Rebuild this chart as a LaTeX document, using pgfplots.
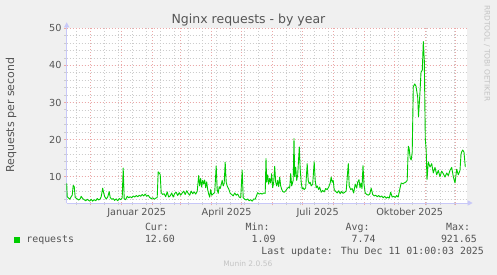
\documentclass[border=0pt]{standalone}
\usepackage{pgfplots}
\pgfplotsset{compat=1.18}
\usepackage{pgfplotstable}
\usepackage{fontspec}
\setmainfont{DejaVu Sans}
\newfontfamily\monofont{DejaVu Sans Mono}
\usetikzlibrary{arrows.meta}
\definecolor{bgc}{HTML}{F0F0F0}
\definecolor{txt}{HTML}{555555}
\definecolor{lgreen}{HTML}{00CC00}
\definecolor{gridred}{HTML}{EBA8A8}
\definecolor{gridgray}{HTML}{CCCCCC}
\definecolor{axblue}{HTML}{C8C8F8}
\definecolor{wm}{HTML}{C4C4C4}

\pgfplotstableread{
day val
-24 8.2
-23.5 4.6
-22 4.2
-21 3.9
-20 4.4
-18.5 5.0
-17.5 7.6
-16.5 7.4
-15.5 4.4
-14 4.1
-12 3.7
-10.5 4.0
-9.5 4.7
-8 4.1
-6.5 3.8
-5 3.5
-3.5 3.9
-2 3.6
-1 3.4
0.5 3.9
2 3.4
3.5 3.8
5 3.5
6.5 4.1
8 3.7
9.5 4.0
10.5 4.6
12 6.9
13 5.6
14 4.6
15.5 4.0
17 4.5
18.5 6.0
19.5 4.4
21 3.9
22.5 4.1
24 3.6
25.5 4.0
27 3.5
28.5 4.1
30 3.8
31.5 4.3
32.5 12.3
33.5 4.0
35 3.8
36.5 4.7
38 4.3
39.5 4.6
41 4.3
42.5 4.8
44 4.5
45.5 4.9
47 4.6
48.5 5.0
50 4.7
51.5 5.2
53 4.8
54.5 5.3
56 4.7
57.5 5.0
59 4.4
60.5 4.1
62 4.3
63.5 3.9
65 4.2
66.5 4.4
67.5 11.3
68.5 11.0
69.5 10.6
70.5 5.7
72 5.2
73.5 5.4
75 4.6
76.5 5.9
78 4.5
79.5 4.8
81 5.6
82.5 4.5
84 5.5
85.5 5.8
87 4.9
88.5 5.7
90 5.0
91.5 5.6
93 6.1
94.5 5.2
96 6.2
97.5 5.5
99 5.0
100.5 6.1
102 5.4
103.5 5.9
105 5.3
106.5 6.0
108 10.3
109 7.5
110 9.5
111 7.2
112 9.0
113 8.0
114 9.1
115 7.0
116 8.6
117 6.5
118 5.3
119 4.5
120 6.5
121 5.0
122.5 5.4
124 5.7
125.5 12.9
126.5 6.5
127.5 5.5
128.5 7.3
129.5 6.8
130.5 7.8
131.5 9.0
132.5 7.5
133.5 8.2
134.5 13.9
135.5 8.5
136.5 7.5
138 6.7
139.5 5.5
141 5.2
142.5 4.8
144 5.6
145.5 5.0
147 5.3
148.5 4.5
150 4.3
151.5 11.8
152.5 4.3
154 3.9
155.5 3.7
157 4.0
158.5 3.5
160 3.8
161.5 3.4
163 4.0
164.5 3.9
166 5.0
167 5.7
168.5 5.3
170 5.5
171.5 5.3
173 5.6
174.5 5.5
175.3 14.9
176 8.5
177 10.5
178 8.0
179 9.5
180 8.3
181 10.8
182 7.0
183 8.5
184 12.8
185 8.5
186 7.5
187 9.0
188 7.3
189 9.9
190 7.5
191 6.6
192 6.0
193.5 5.8
195 6.2
196.5 6.8
198 7.2
199 6.9
200 10.8
201 7.5
202.5 9.0
203.3 20.3
204 10.0
205 12.6
206 9.0
207 10.5
208.6 18.0
209.5 12.0
210.5 8.5
211.5 6.7
212.5 7.0
213.5 6.5
215 7.0
216.5 13.5
217.5 9.0
218.5 8.1
219.5 8.5
220.5 7.5
222 8.0
223.5 14.0
224.5 9.0
225.5 7.0
226.5 7.5
228 6.5
229 7.2
230.5 5.8
232 6.3
233.5 5.9
235 6.8
236.5 6.5
238 7.2
239.5 8.3
240.5 9.9
241.5 8.5
242.5 9.0
243.5 6.5
245 6.0
246.5 5.6
248 6.2
249.5 5.4
251 6.0
252.5 5.5
254 5.8
255.5 6.2
257.6 13.5
258.5 7.5
260 6.5
261.5 6.8
263 5.6
264.5 8.0
266 6.9
267 8.5
268.3 9.2
269.3 7.0
270.3 8.3
271.3 6.8
272.3 13.0
273.3 8.0
274.5 5.6
276 5.2
277.5 5.0
279 5.3
280.5 6.9
282 5.2
283.5 4.8
285 5.0
286.5 4.6
288 4.9
289.5 4.5
291 4.8
292.5 4.3
294 4.7
295.5 4.2
297 4.5
298.5 4.2
300 5.8
301.5 4.5
303 4.7
304.5 4.4
306 4.9
307.5 4.5
309 6.5
310.5 8.3
312 8.1
313.5 8.3
315 8.5
316.5 9.0
317.6 18.2
318.5 17.5
319.5 15.0
320.5 14.5
321.5 16.5
322.6 34.2
324 35.0
325.3 34.4
327 31.4
327.8 26.2
329.3 32.8
330.3 38.2
331.6 38.7
332.6 46.4
333.6 41.4
334.6 20.3
335.5 17.0
336.3 9.2
337.6 14.0
339.3 12.6
341 13.5
342.6 11.0
344.3 12.5
346 10.5
347.6 11.7
349.3 10.0
351 11.5
352.6 10.8
354.3 9.9
356 11.0
357.6 10.3
359.3 11.7
361 12.5
362.6 10.0
364.3 8.3
366 12.0
367.6 10.5
369.3 11.7
370.3 16.0
371 16.7
372 17.2
373.3 16.6
374.6 12.6
}\datatable

\begin{document}
\begin{tikzpicture}
\fill[bgc] (0,0) rectangle (497bp,275bp);
\useasboundingbox (0,0) rectangle (497bp,275bp);
\begin{axis}[
  at={(66.7bp,72bp)}, anchor=south west,
  scale only axis, width=400bp, height=174.7bp,
  xmin=-24, xmax=376, ymin=2.9, ymax=50,
  axis background/.style={fill=white},
  axis x line=bottom, axis y line=left,
  axis line style={draw=axblue, line width=0.9bp},
  x axis line style={-{Triangle[length=5bp,width=5bp]}, shorten >=-6bp},
  y axis line style={-{Triangle[length=5bp,width=5bp]}, shorten >=-6bp},
  /pgf/number format/assume math mode=true,
  tick label style={font=\fontsize{9.7bp}{11bp}\selectfont, text=txt, inner sep=0pt},
  xtick={0,31,62,90,121,151,182,212,243,274,304,335,365},
  xticklabels={},
  ytick={10,20,30,40,50},
  minor xtick={-14,0,...,364},
  minor ytick={4,6,...,48},
  xmajorgrids=true, ymajorgrids=true, xminorgrids=true, yminorgrids=true,
  major grid style={draw=gridred, dash pattern=on 1bp off 2bp, line width=0.7bp},
  minor grid style={draw=gridgray, dash pattern=on 1bp off 2bp, line width=0.7bp},
  tick align=outside,
  major tick length=2.5bp, minor tick length=2.5bp,
  major tick style={draw=gridred, line width=0.8bp},
  minor tick style={draw=gridgray, line width=0.8bp},
  yticklabel style={anchor=east, xshift=-2.5bp},
  extra x ticks={46,136,227,319},
  extra x tick labels={Januar 2025,April 2025,Juli 2025,Oktober 2025},
  extra x tick style={grid=none, major tick length=0pt,
    xticklabel style={anchor=base, yshift=-12.5bp}},
  clip=false,
]
\addplot[draw=lgreen, line width=0.9bp, line join=round] table[x=day, y=val] {\datatable};
\end{axis}
% title
\node[anchor=base, text=txt, font=\fontsize{12.5bp}{14bp}\selectfont, inner sep=0pt] at (248.5bp,251.5bp) {Nginx requests - by year};
% y label
\node[anchor=base, rotate=90, text=txt, font=\fontsize{11bp}{13bp}\selectfont, inner sep=0pt] at (14bp,160bp) {Requests per second};
% watermark right
\node[anchor=base, rotate=-90, text=wm, font=\fontsize{7.5bp}{9bp}\selectfont, inner sep=0pt] at (484.5bp,221.7bp) {RRDTOOL / TOBI OETIKER};
% legend
\fill[lgreen] (14bp,32bp) rectangle (20bp,38bp);
\begin{scope}[every node/.style={anchor=base west, text=txt, font=\monofont\fontsize{9.9bp}{11bp}\selectfont, inner sep=0pt}]
\node at (26.2bp,32.3bp) {requests};
\node at (144.8bp,44.3bp) {Cur:};
\node at (144.8bp,32.6bp) {12.60};
\node at (245.5bp,44.3bp) {Min:};
\node at (251.5bp,32.6bp) {1.09};
\node at (345.5bp,44.3bp) {Avg:};
\node at (351.5bp,32.6bp) {7.74};
\node at (446bp,44.3bp) {Max:};
\node at (440.8bp,32.6bp) {921.65};
\node at (261.2bp,21bp) {Last update: Thu Dec 11 01:00:03 2025};
\end{scope}
\node[anchor=base, text=wm, font=\fontsize{7.5bp}{9bp}\selectfont, inner sep=0pt] at (247.8bp,8.3bp) {Munin 2.0.56};
\end{tikzpicture}
\end{document}
